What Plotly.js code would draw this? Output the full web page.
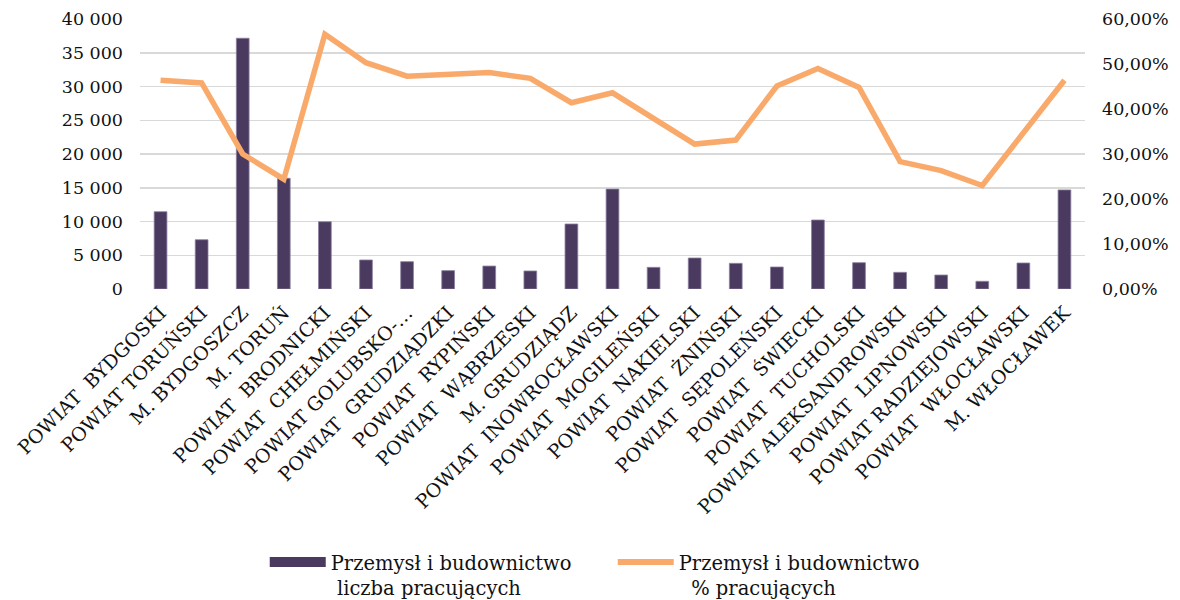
<!DOCTYPE html>
<html>
<head>
<meta charset="utf-8">
<script src="https://cdn.plot.ly/plotly-3.0.1.min.js"></script>
<style>html,body{margin:0;padding:0;background:#fff;}#chart{width:1180px;height:600px;}</style>
</head>
<body>
<div id="chart"></div>
<script>
const categories = [
  "POWIAT\u00a0 BYDGOSKI", "POWIAT TORUŃSKI", "M. BYDGOSZCZ", "M. TORUŃ",
  "POWIAT\u00a0 BRODNICKI", "POWIAT\u00a0 CHEŁMIŃSKI", "POWIAT GOLUBSKO-…", "POWIAT\u00a0 GRUDZIĄDZKI",
  "POWIAT\u00a0 RYPIŃSKI", "POWIAT\u00a0 WĄBRZESKI", "M. GRUDZIĄDZ", "POWIAT\u00a0 INOWROCŁAWSKI",
  "POWIAT\u00a0 MOGILEŃSKI", "POWIAT\u00a0 NAKIELSKI", "POWIAT\u00a0 ŻNIŃSKI", "POWIAT\u00a0 SĘPOLEŃSKI",
  "POWIAT\u00a0 ŚWIECKI", "POWIAT\u00a0 TUCHOLSKI", "POWIAT ALEKSANDROWSKI", "POWIAT\u00a0 LIPNOWSKI",
  "POWIAT RADZIEJOWSKI", "POWIAT\u00a0 WŁOCŁAWSKI", "M. WŁOCŁAWEK"
];
const workers = [11450, 7300, 37150, 16400, 9970, 4300, 4050, 2720, 3400, 2670, 9630, 14800,
  3210, 4590, 3800, 3260, 10220, 3900, 2470, 2070, 1140, 3850, 14680];
const sharePct = [0.464, 0.458, 0.300, 0.244, 0.566, 0.503, 0.473, 0.476, 0.481, 0.468, 0.414, 0.436,
  0.379, 0.322, 0.331, 0.451, 0.490, 0.448, 0.283, 0.263, 0.230, 0.346, 0.464];
const seriesNames = ["Przemysł i budownictwo<br>&nbsp;liczba pracujących", "Przemysł i budownictwo<br>&nbsp;&nbsp;% pracujących"];
const leftTicks = [0, 5000, 10000, 15000, 20000, 25000, 30000, 35000, 40000];

const purple = "#4b3a5f";
const orange = "#f9aa6b";
const font = "DejaVu Serif, serif";
const txt = "#111111";

const traces = [
  {
    type: "bar", x: categories, y: workers, name: seriesNames[0], showlegend: false,
    marker: {color: purple, line: {color: "#8c7fa0", width: 0.8}}, width: 0.31
  },
  {
    type: "scatter", mode: "lines", x: categories, y: sharePct, yaxis: "y2", name: seriesNames[1],
    line: {color: orange, width: 5.5}, showlegend: false
  },
  {
    type: "scatter", mode: "lines", x: [categories[0]], y: [null], name: seriesNames[0],
    line: {color: purple, width: 10}, hoverinfo: "skip"
  },
  {
    type: "scatter", mode: "lines", x: [categories[0]], y: [null], yaxis: "y2", name: seriesNames[1],
    line: {color: orange, width: 6}, hoverinfo: "skip"
  }
];

const layout = {
  width: 1180, height: 600,
  margin: {l: 140, r: 95, t: 19, b: 311, autoexpand: false},
  paper_bgcolor: "#fff", plot_bgcolor: "#fff",
  font: {family: font, size: 17, color: txt},
  separators: ", ",
  bargap: 0.69,
  xaxis: {
    type: "category", tickangle: -45, showgrid: false, showline: false, zeroline: false,
    ticks: "", tickfont: {family: font, size: 19, color: txt}, automargin: false,
    ticklabelstandoff: 8,
    range: [-0.5, categories.length - 0.5]
  },
  yaxis: {
    range: [0, 40000], tickvals: leftTicks, separatethousands: true, tickformat: ",d",
    showgrid: true, gridcolor: "#d9d9d9", gridwidth: 1.5, zeroline: false, showline: false,
    ticks: "", ticklabelstandoff: 16, tickfont: {family: font, size: 17.5, color: txt},
    automargin: false
  },
  yaxis2: {
    overlaying: "y", side: "right", range: [0, 0.6], dtick: 0.1, tickformat: ".2%",
    showgrid: false, zeroline: false, showline: false, ticks: "", ticklabelstandoff: 16,
    tickfont: {family: font, size: 17.5, color: txt}, automargin: false
  },
  showlegend: true,
  legend: {
    orientation: "h", x: 0.132, xanchor: "left", y: -0.94, yanchor: "top",
    font: {family: font, size: 19.5, color: txt}, itemwidth: 56, entrywidth: 277,
    valign: "top", bgcolor: "rgba(0,0,0,0)", traceorder: "normal"
  }
};

Plotly.newPlot("chart", traces, layout, {displayModeBar: false, staticPlot: true});
</script>
</body>
</html>
